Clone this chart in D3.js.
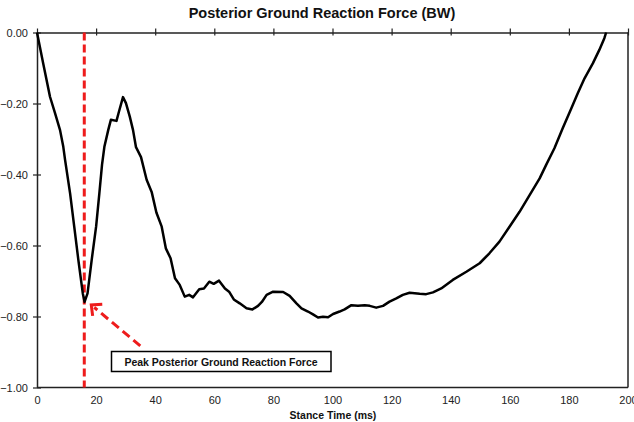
<!DOCTYPE html>
<html><head><meta charset="utf-8">
<script src="https://cdn.jsdelivr.net/npm/d3@7"></script>
<style>body{margin:0;background:#fff}svg{display:block}text{font-family:"Liberation Sans",Arial,sans-serif}</style>
</head><body><svg id="c" width="634" height="422"></svg>
<script>
const title = "Posterior Ground Reaction Force (BW)";
const xTitle = "Stance Time (ms)";
const annotation = "Peak Posterior Ground Reaction Force";
const xTicks = [0,20,40,60,80,100,120,140,160,180,200];
const yTicks = [0,-0.2,-0.4,-0.6,-0.8,-1.0];
const peakTime = 16;
const peakForce = -0.759;
const timeMs = [0,2.1,4.4,6.1,7.8,8.9,9.5,11.2,12.6,14.0,15.5,16.1,17.1,18.5,20.0,21.1,22.0,22.8,24.1,25.0,26.9,27.7,29.1,30.1,31.4,32.5,33.5,35.2,37.1,38.8,40.4,42.2,43.6,45.2,46.7,48.3,50.0,51.5,52.8,54.9,56.5,58.3,59.8,61.6,63.6,65.0,66.6,68.6,70.9,72.9,74.8,76.1,77.7,79.9,83.3,85.5,87.8,89.5,91.7,93.4,95.1,96.8,98.5,100.2,102.4,104.1,106.4,108.6,110.9,112.6,114.8,117.1,119.3,121.6,123.8,126.1,129.5,131.7,134.0,136.8,140.7,145.3,149.8,153.1,156.5,159.9,163.3,166.7,170.1,172.3,175.1,177.9,180.8,183.0,185.3,188.1,190.3,192.0,192.6];
const forceBW = [0,-0.087,-0.181,-0.227,-0.275,-0.322,-0.359,-0.453,-0.547,-0.641,-0.735,-0.759,-0.735,-0.641,-0.547,-0.453,-0.373,-0.322,-0.275,-0.246,-0.249,-0.224,-0.182,-0.199,-0.237,-0.275,-0.323,-0.351,-0.415,-0.449,-0.507,-0.547,-0.608,-0.636,-0.692,-0.711,-0.744,-0.739,-0.746,-0.723,-0.721,-0.702,-0.708,-0.699,-0.721,-0.730,-0.752,-0.763,-0.777,-0.780,-0.770,-0.759,-0.739,-0.730,-0.731,-0.742,-0.763,-0.777,-0.786,-0.794,-0.803,-0.801,-0.802,-0.793,-0.786,-0.780,-0.768,-0.770,-0.768,-0.770,-0.775,-0.770,-0.758,-0.749,-0.739,-0.733,-0.736,-0.737,-0.732,-0.721,-0.697,-0.674,-0.650,-0.622,-0.589,-0.547,-0.505,-0.458,-0.411,-0.373,-0.326,-0.270,-0.214,-0.171,-0.129,-0.087,-0.049,-0.016,0];

const svg = d3.select("#c");
const m = {l:37, r:6, t:32.5, b:34.5};
const W = 634, H = 422;
const x = d3.scaleLinear().domain([0,200]).range([m.l, W-m.r]);
const y = d3.scaleLinear().domain([-1,0]).range([H-m.b, m.t]);
const red = "#ee1c1c";

// frame: bottom and right border
svg.append("line").attr("x1",x(0)).attr("x2",x(200)).attr("y1",y(-1)).attr("y2",y(-1)).attr("stroke","#222").attr("stroke-width",1.5);
svg.append("line").attr("x1",x(200)).attr("x2",x(200)).attr("y1",y(0)).attr("y2",y(-1)).attr("stroke","#222").attr("stroke-width",1.5);

// top axis line with crossing ticks
const topAx = svg.append("g").attr("transform",`translate(0,${y(0)})`)
  .call(d3.axisTop(x).tickValues(xTicks).tickSizeInner(4).tickSizeOuter(0).tickFormat(""));
topAx.select(".domain").attr("stroke","#222").attr("stroke-width",1.5);
topAx.selectAll(".tick line").attr("stroke","#222").attr("stroke-width",1.2).attr("y1",3);

// bottom tick labels (no ticks)
const botAx = svg.append("g").attr("transform",`translate(0,${y(-1)})`)
  .call(d3.axisBottom(x).tickValues(xTicks).tickSize(0).tickPadding(9).tickFormat(d3.format("d")));
botAx.select(".domain").remove();
botAx.selectAll("text").attr("font-size",11).attr("fill","#222").attr("font-family","Liberation Sans, Arial, sans-serif");

// left axis
const leftAx = svg.append("g").attr("transform",`translate(${x(0)},0)`)
  .call(d3.axisLeft(y).tickValues(yTicks).tickSizeInner(4).tickSizeOuter(0).tickPadding(5).tickFormat(d3.format(".2f")));
leftAx.select(".domain").attr("stroke","#222").attr("stroke-width",1.5);
leftAx.selectAll(".tick line").attr("stroke","#222").attr("stroke-width",1.2).attr("x2",-4).attr("x1",4);
leftAx.selectAll("text").attr("font-size",11).attr("fill","#222").attr("font-family","Liberation Sans, Arial, sans-serif");

// red dashed vertical line at peak
svg.append("line").attr("x1",x(peakTime)).attr("x2",x(peakTime)).attr("y1",y(0)).attr("y2",y(-1))
  .attr("stroke",red).attr("stroke-width",3).attr("stroke-dasharray","8,4");

// curve
const line = d3.line().x((d,i)=>x(timeMs[i])).y(d=>y(d));
svg.append("path").datum(forceBW).attr("d",line).attr("fill","none").attr("stroke","#000").attr("stroke-width",2.5).attr("stroke-linejoin","round");

// annotation arrow
const tipX = x(peakTime)+7, tipY = y(peakForce)+3;
const tailX = x(peakTime)+56, tailY = y(peakForce)+44;
svg.append("line").attr("x1",tailX).attr("y1",tailY).attr("x2",tipX+3).attr("y2",tipY+2.5)
  .attr("stroke",red).attr("stroke-width",3).attr("stroke-dasharray","9,5");
const ang = Math.atan2(tailY-tipY, tailX-tipX);
const armL = 11, spread = 0.75;
svg.append("path")
  .attr("d",`M${tipX+armL*Math.cos(ang-spread)},${tipY+armL*Math.sin(ang-spread)} L${tipX},${tipY} L${tipX+armL*Math.cos(ang+spread)},${tipY+armL*Math.sin(ang+spread)}`)
  .attr("fill","none").attr("stroke",red).attr("stroke-width",3);

// annotation box
svg.append("rect").attr("x",111.5).attr("y",351.5).attr("width",219.5).attr("height",20)
  .attr("fill","#fff").attr("stroke","#000").attr("stroke-width",1.5);
svg.append("text").attr("x",221).attr("y",365.5).attr("text-anchor","middle")
  .attr("font-size",10.5).attr("font-weight","bold").attr("fill","#111").text(annotation);

// titles
svg.append("text").attr("x",322).attr("y",18).attr("text-anchor","middle")
  .attr("font-size",14.5).attr("font-weight","bold").attr("fill","#111").text(title);
svg.append("text").attr("x",333).attr("y",419).attr("text-anchor","middle")
  .attr("font-size",10.5).attr("font-weight","bold").attr("fill","#111").text(xTitle);
</script></body></html>
